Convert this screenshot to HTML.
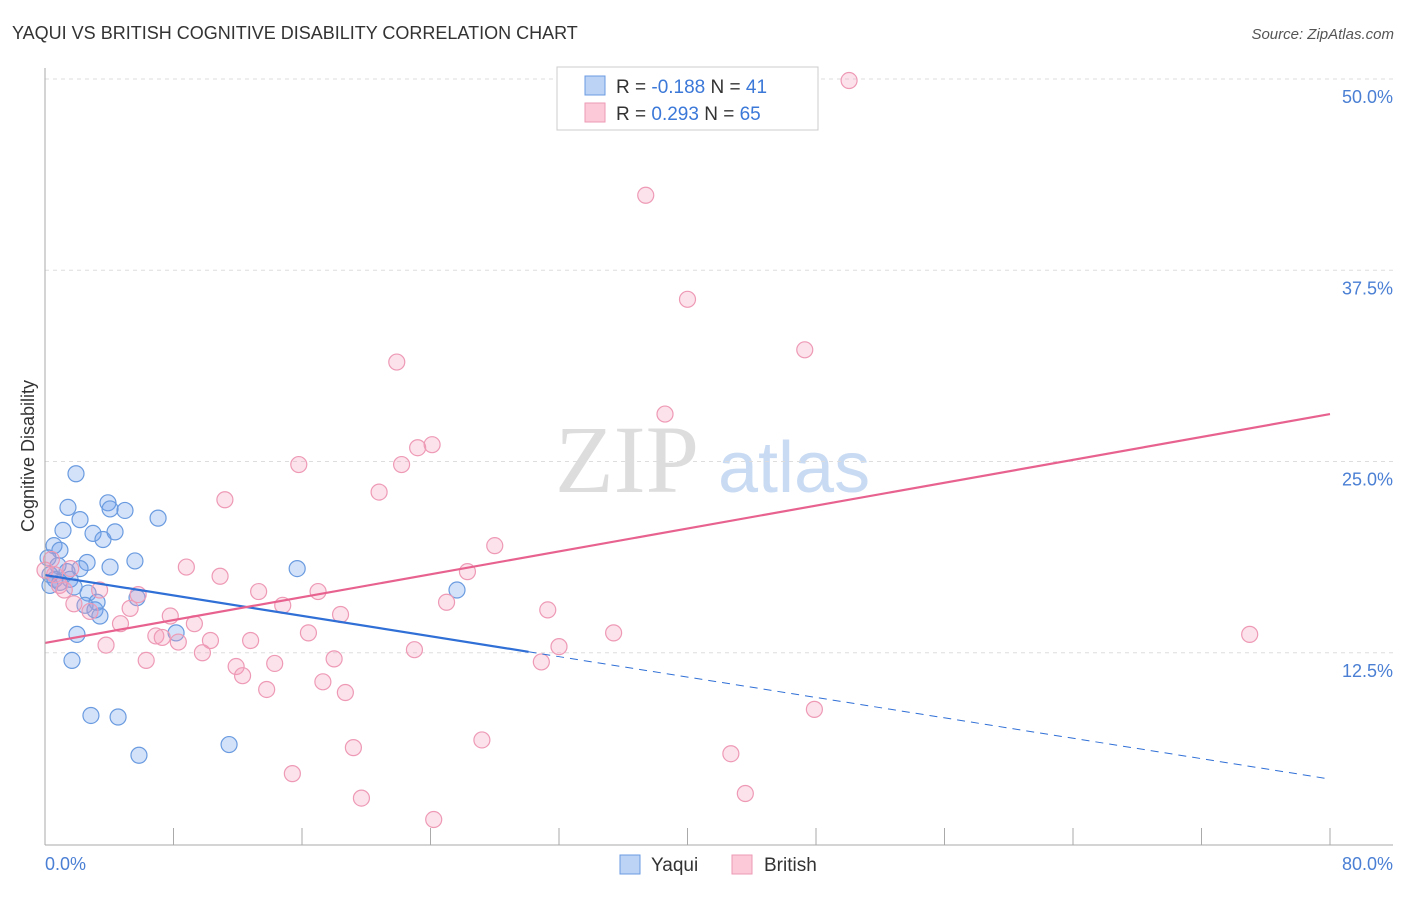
<!DOCTYPE html>
<html><head><meta charset="utf-8"><style>
body{margin:0;background:#fff;font-family:"Liberation Sans",sans-serif}
</style></head><body>
<svg width="1406" height="892" viewBox="0 0 1406 892" xmlns="http://www.w3.org/2000/svg" id="svg">
<text x="12" y="39" font-size="18" fill="#333">YAQUI VS BRITISH COGNITIVE DISABILITY CORRELATION CHART</text>
<text x="1394" y="39" font-size="15" fill="#555" font-style="italic" text-anchor="end">Source: ZipAtlas.com</text>
<text x="555" y="492" font-size="96" font-family="Liberation Serif,serif" fill="#ddd">ZIP</text>
<text x="718" y="492" font-size="72" fill="#c9dbf3">atlas</text>
<text transform="translate(34,456) rotate(-90)" font-size="18" fill="#333" text-anchor="middle">Cognitive Disability</text>
<g id="grid"></g><g id="pts"></g><g id="trend"></g>
<line x1="45" y1="68" x2="45" y2="845" stroke="#aaa"/>
<line x1="45" y1="845" x2="1393" y2="845" stroke="#aaa"/>
<text x="45" y="870" font-size="18" fill="#4a7fd4">0.0%</text>
<text x="1393" y="870" font-size="18" fill="#4a7fd4" text-anchor="end">80.0%</text>
<g>
<rect x="557" y="67" width="261" height="63" fill="#fff" stroke="#ccc"/>
<rect x="585" y="76" width="20" height="19" fill="#bcd3f5" stroke="#6a9be0"/>
<rect x="585" y="103" width="20" height="19" fill="#fbc9d8" stroke="#ee9ab5"/>
<text x="616" y="93" font-size="19" fill="#333">R = <tspan fill="#3b78d8">-0.188</tspan>   N = <tspan fill="#3b78d8">41</tspan></text>
<text x="616" y="120" font-size="19" fill="#333">R =  <tspan fill="#3b78d8">0.293</tspan>   N = <tspan fill="#3b78d8">65</tspan></text>
</g>
<g>
<rect x="620" y="855" width="20" height="19" fill="#bcd3f5" stroke="#6a9be0"/>
<text x="651" y="871" font-size="19" fill="#333">Yaqui</text>
<rect x="732" y="855" width="20" height="19" fill="#fbc9d8" stroke="#ee9ab5"/>
<text x="764" y="871" font-size="19" fill="#333">British</text>
</g>
</svg>
<script>
const yTicks=[12.5,25.0,37.5,50.0];
const xTicks=[8,16,24,32,40,48,56,64,72,80];
const yaquiX=[1.93,1.43,3.92,4.98,4.05,2.18,1.12,2.99,4.36,3.61,7.04,0.56,0.93,0.19,0.81,2.62,4.05,1.37,2.18,5.6,15.7,0.31,0.62,1.56,1.81,0.31,0.93,2.68,3.24,2.49,3.11,3.42,5.73,8.16,1.99,25.65,1.68,2.86,4.55,5.85,11.46];
const yaquiY=[24.2,22.0,22.3,21.8,21.9,21.2,20.5,20.3,20.4,19.9,21.3,19.5,19.2,18.7,18.2,18.4,18.1,17.8,18.0,18.5,18.0,17.6,17.3,17.3,16.8,16.9,17.1,16.4,15.8,15.6,15.3,14.9,16.1,13.8,13.7,16.6,12.0,8.4,8.3,5.8,6.5];
const britishX=[50.06,37.4,40.0,47.3,21.9,38.6,24.1,23.2,22.2,15.8,20.8,11.2,28.0,8.8,26.3,10.9,0.4,0.6,0.9,1.2,17.0,13.3,5.8,14.8,1.8,25.0,31.3,7.8,5.3,2.8,4.7,9.3,18.4,16.4,35.4,75.0,6.9,7.3,10.3,12.8,3.8,8.3,32.0,23.0,9.8,6.3,14.3,18.0,30.9,11.9,12.3,17.3,13.8,18.7,47.9,27.2,19.2,42.7,15.4,43.6,19.7,24.2,0.0,1.6,3.4];
const britishY=[49.9,42.4,35.6,32.3,31.5,28.1,26.1,25.9,24.8,24.8,23.0,22.5,19.5,18.1,17.8,17.5,18.6,17.6,16.9,16.6,16.5,16.5,16.3,15.6,15.7,15.8,15.3,14.9,15.4,15.2,14.4,14.4,15.0,13.8,13.8,13.7,13.6,13.5,13.3,13.3,13.0,13.2,12.9,12.7,12.5,12.0,11.8,12.1,11.9,11.6,11.0,10.6,10.1,9.9,8.8,6.8,6.3,5.9,4.6,3.3,3.0,1.6,17.9,18.0,16.6];
const yaquiTrend=[17.58,-0.1667,30.1];
const britishTrend=[13.14,0.187];
const NS='http://www.w3.org/2000/svg';
const sx=v=>45+v*(1285/80), sy=v=>844-v*15.3;
function mk(t,a,p){const e=document.createElementNS(NS,t);for(const k in a)e.setAttribute(k,a[k]);document.getElementById(p).appendChild(e);return e;}
yTicks.forEach(t=>{
 const l=mk('line',{x1:45,x2:1393,y1:sy(t),y2:sy(t),stroke:'#ddd','stroke-dasharray':'4,4'},'grid');
 
 
 const tx=mk('text',{x:1393,y:sy(t)+24,'font-size':18,fill:'#4a7fd4','text-anchor':'end'},'grid');tx.textContent=t.toFixed(1)+'%';
 
 
});
xTicks.forEach(t=>{
 const l=mk('line',{x1:sx(t),x2:sx(t),y1:828,y2:845,stroke:'#aaa'},'grid');
 
 
});
mk('line',{x1:45,x2:1393,y1:79,y2:79,stroke:'#ddd','stroke-dasharray':'4,4'},'grid');
yaquiX.forEach((x,i)=>{
 const c=mk('circle',{cx:sx(x),cy:sy(yaquiY[i]),r:8,fill:'rgba(110,160,235,0.3)',stroke:'#6a9be0','stroke-width':1.2},'pts');
 
 
});
britishX.forEach((x,i)=>{
 const c=mk('circle',{cx:sx(x),cy:sy(britishY[i]),r:8,fill:'rgba(245,160,190,0.3)',stroke:'#ee9ab5','stroke-width':1.2},'pts');
 
 
});
const ty=(tr,x)=>tr[0]+tr[1]*x;
let a=mk('line',{x1:sx(0),y1:sy(ty(yaquiTrend,0)),x2:sx(yaquiTrend[2]),y2:sy(ty(yaquiTrend,yaquiTrend[2])),stroke:'#2f6fd6','stroke-width':2.2},'trend');


let b=mk('line',{x1:sx(yaquiTrend[2]),y1:sy(ty(yaquiTrend,yaquiTrend[2])),x2:sx(80),y2:sy(ty(yaquiTrend,80)),stroke:'#2f6fd6','stroke-width':1,'stroke-dasharray':'8,6'},'trend');


let c=mk('line',{x1:sx(0),y1:sy(ty(britishTrend,0)),x2:sx(80),y2:sy(ty(britishTrend,80)),stroke:'#e8628f','stroke-width':2.2},'trend');


</script>
</body></html>
